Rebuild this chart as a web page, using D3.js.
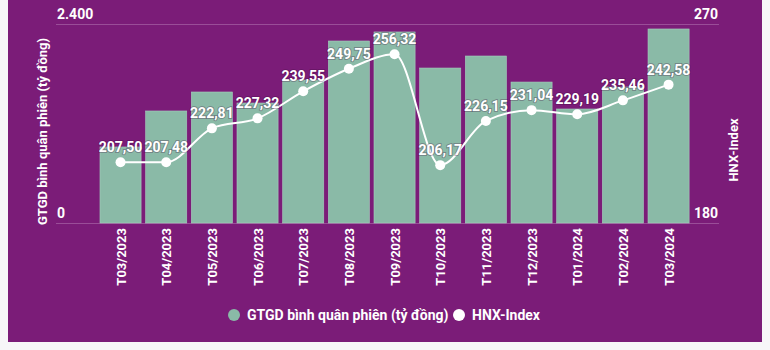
<!DOCTYPE html>
<html lang="vi">
<head>
<meta charset="UTF-8">
<title>GTGD & HNX-Index</title>
<style>
  body { margin: 0; padding: 0; background: #f7f6f8; }
  svg { display: block; font-family: Roboto, "Noto Sans", Arial, sans-serif; }
  .lbl { fill: #fff; font-weight: bold; font-size: 14px; paint-order: stroke; stroke: rgba(60,10,60,0.3); stroke-width: 2px; }
  .tick-txt { fill: #fff; font-weight: bold; font-size: 13px; }
</style>
</head>
<body>
<div id="chart"></div>
<script src="https://cdn.jsdelivr.net/npm/d3@7"></script>
<script>
// data
const months = ['T03/2023','T04/2023','T05/2023','T06/2023','T07/2023','T08/2023','T09/2023',
                'T10/2023','T11/2023','T12/2023','T01/2024','T02/2024','T03/2024'];
const gtgd = [917, 1351, 1580, 1447, 1725, 2195, 2304, 1869, 2014, 1700, 1375, 1640, 2340];
const hnx = [207.50, 207.48, 222.81, 227.32, 239.55, 249.75, 256.32, 206.17, 226.15, 231.04, 229.19, 235.46, 242.58];
const leftTicks = [0, 2400];
const rightTicks = [180, 270];

const W = 770, H = 350;
const purple = '#7b1c78';
const barColor = '#8abaa7';

const svg = d3.select('#chart').append('svg').attr('width', W).attr('height', H);

svg.append('rect').attr('x', 8).attr('y', 0).attr('width', 754).attr('height', 342).attr('fill', purple);

const plotTop = 24, plotBottom = 223, gx0 = 56, gx1 = 719;

const x = d3.scaleBand().domain(months).range([97.7, 691.4]).paddingInner(0.1).paddingOuter(0.05);
const yL = d3.scaleLinear().domain([0, 2400]).range([plotBottom, plotTop]);
const yR = d3.scaleLinear().domain([180, 270]).range([plotBottom, plotTop]);

// grid lines
svg.selectAll('.grid').data(leftTicks).enter().append('line')
  .attr('x1', gx0).attr('x2', gx1)
  .attr('y1', d => yL(d) + 0.5).attr('y2', d => yL(d) + 0.5)
  .attr('stroke', '#9a4d98').attr('stroke-width', 1);

// bars
svg.selectAll('.bar').data(gtgd).enter().append('rect')
  .attr('x', (d, i) => x(months[i]))
  .attr('y', d => yL(d))
  .attr('width', x.bandwidth())
  .attr('height', d => plotBottom - yL(d))
  .attr('fill', barColor)
  .attr('stroke', '#a6cdbd').attr('stroke-width', 0.6);

// axis value labels
svg.selectAll('.ltick').data(leftTicks).enter().append('text')
  .attr('class', 'tick-txt')
  .attr('x', 57).attr('y', d => yL(d) - 5)
  .style('font-size', '14px')
  .text(d => d3.format(',')(d).replace(',', '.'));

svg.selectAll('.rtick').data(rightTicks).enter().append('text')
  .attr('class', 'tick-txt')
  .attr('x', 718).attr('y', d => yR(d) - 5)
  .attr('text-anchor', 'end')
  .style('font-size', '14px')
  .text(d => d);

// axis titles
svg.append('text').attr('class', 'tick-txt')
  .attr('transform', `translate(47,${(plotTop + plotBottom) / 2 + 8}) rotate(-90)`)
  .attr('text-anchor', 'middle')
  .text('GTGD bình quân phiên (tỷ đồng)');

svg.append('text').attr('class', 'tick-txt')
  .attr('transform', 'translate(738,150) rotate(-90)')
  .attr('text-anchor', 'middle')
  .text('HNX-Index');

// x labels
svg.selectAll('.xlab').data(months).enter().append('text')
  .attr('class', 'tick-txt')
  .attr('transform', d => `translate(${x(d) + x.bandwidth() / 2 + 5},228) rotate(-90)`)
  .attr('text-anchor', 'end')
  .text(d => d);

// line
const cx = i => x(months[i]) + x.bandwidth() / 2;
const line = d3.line().x((d, i) => cx(i)).y(d => yR(d)).curve(d3.curveMonotoneX);
svg.append('path').datum(hnx).attr('d', line)
  .attr('fill', 'none').attr('stroke', '#fff').attr('stroke-width', 2);

svg.selectAll('.dot').data(hnx).enter().append('circle')
  .attr('cx', (d, i) => cx(i)).attr('cy', d => yR(d)).attr('r', 5)
  .attr('fill', '#fff');

svg.selectAll('.vlab').data(hnx).enter().append('text')
  .attr('class', 'lbl')
  .attr('x', (d, i) => cx(i)).attr('y', d => yR(d) - 10)
  .attr('text-anchor', 'middle')
  .text(d => d.toFixed(2).replace('.', ','));

// legend
const legend = [
  { name: 'GTGD bình quân phiên (tỷ đồng)', color: barColor, x: 234 },
  { name: 'HNX-Index', color: '#fff', x: 459 }
];
const lg = svg.selectAll('.leg').data(legend).enter().append('g')
  .attr('transform', d => `translate(${d.x},315)`);
lg.append('circle').attr('r', 6).attr('fill', d => d.color);
lg.append('text').attr('class', 'tick-txt').attr('x', 13).attr('y', 5)
  .style('font-size', '14px').text(d => d.name);
</script>
</body>
</html>
